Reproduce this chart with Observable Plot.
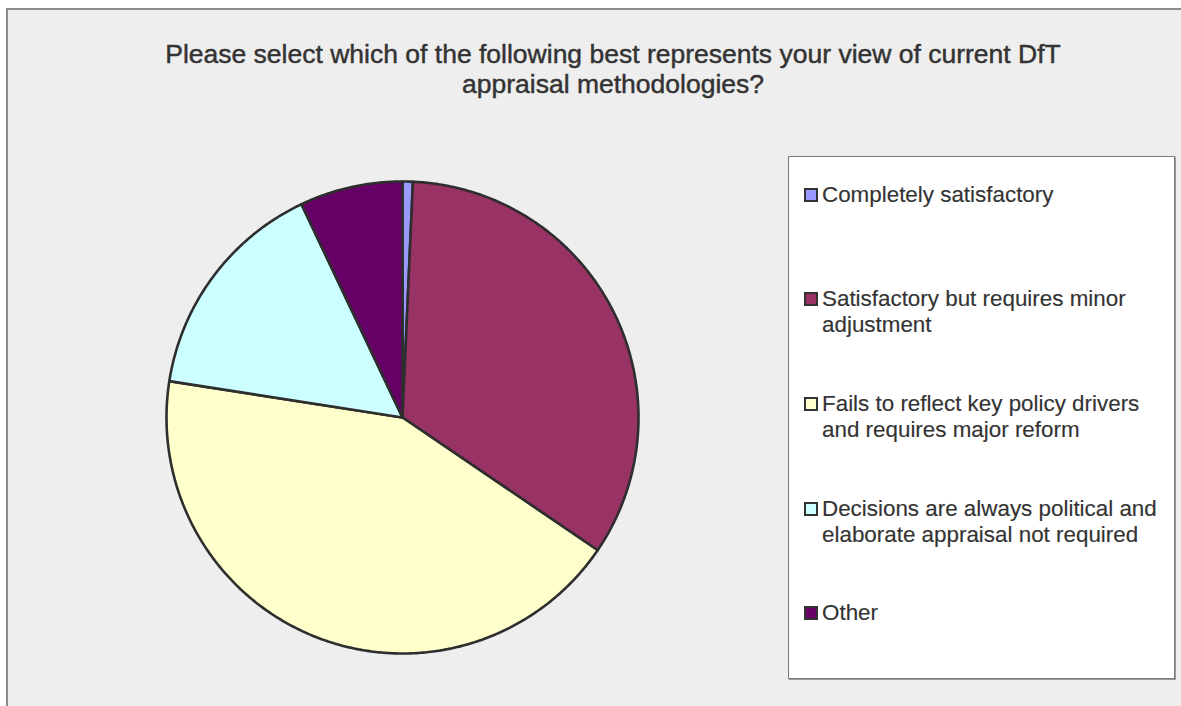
<!DOCTYPE html>
<html>
<head>
<meta charset="utf-8">
<script src="https://cdn.jsdelivr.net/npm/d3@7"></script>
<script src="https://cdn.jsdelivr.net/npm/@observablehq/plot@0.6"></script>
<style>
  html, body { margin: 0; padding: 0; background: #ffffff; overflow: hidden; }
  body { width: 1181px; height: 706px; position: relative; font-family: "Liberation Sans", Arial, sans-serif; }
  #frame { position: absolute; left: 6px; top: 8px; width: 1200px; height: 720px; background: #eeeeee;
           border-left: 2px solid #8c8c8c; border-top: 2px solid #8c8c8c; }
  #title { position: absolute; left: 113px; width: 1000px; top: 39px; text-align: center; color: #333333;
           font-size: 26.5px; line-height: 30px; white-space: pre; -webkit-text-stroke: 0.45px #333333; }
  #pie { position: absolute; left: 162px; top: 177px; }
  #legend { position: absolute; left: 788px; top: 156px; width: 385px; height: 521px; background: #ffffff;
            border: 1px solid #7a7a7a; box-shadow: 1px 1px 0 #9a9a9a; }
  .sw { position: absolute; width: 10px; height: 10px; border: 2px solid #333333; }
  .lab { position: absolute; white-space: pre; font-size: 22.4px; line-height: 26px; color: #333333;
         -webkit-text-stroke: 0.15px #333333; }
</style>
</head>
<body>
<div id="frame"></div>
<div id="title"></div>
<div id="pie"></div>
<div id="legend"></div>
<script>
// ---- data ----
const titleLines = ["Please select which of the following best represents your view of current DfT", "appraisal methodologies?"];
const categories = [
  "Completely satisfactory",
  "Satisfactory but requires minor adjustment",
  "Fails to reflect key policy drivers and requires major reform",
  "Decisions are always political and elaborate appraisal not required",
  "Other"
];
const legendLines = [
  ["Completely satisfactory"],
  ["Satisfactory but requires minor", "adjustment"],
  ["Fails to reflect key policy drivers", "and requires major reform"],
  ["Decisions are always political and", "elaborate appraisal not required"],
  ["Other"]
];
const counts = [1, 48, 61, 22, 10];
const colors = ["#9999ff", "#993366", "#ffffcc", "#ccffff", "#660066"];

// ---- title ----
document.getElementById("title").textContent = titleLines.join("\n");

// ---- pie geometry from data (d3.pie angles, clockwise from 12 o'clock) ----
const arcs = d3.pie().sort(null).value(d => d.v)(categories.map((c, i) => ({c, v: counts[i]})));
const pts = [];
arcs.forEach(a => {
  const c = a.data.c;
  pts.push({c, x: 0, y: 0});
  const n = Math.max(2, Math.ceil((a.endAngle - a.startAngle) / (Math.PI / 360)));
  for (let k = 0; k <= n; k++) {
    const t = a.startAngle + (a.endAngle - a.startAngle) * k / n;
    pts.push({c, x: Math.sin(t), y: Math.cos(t)});
  }
  pts.push({c, x: 0, y: 0});
});

const pie = Plot.plot({
  width: 480, height: 480,
  margin: 4,
  x: {domain: [-1, 1], axis: null},
  y: {domain: [-1, 1], axis: null},
  color: {domain: categories, range: colors},
  style: {background: "transparent", overflow: "visible"},
  marks: [
    Plot.line(pts, {x: "x", y: "y", z: "c", fill: "c", stroke: "#2e2e2e", strokeWidth: 2.6,
                    strokeLinejoin: "round", curve: "linear"})
  ]
});
document.getElementById("pie").appendChild(pie);

// ---- legend ----
const legend = document.getElementById("legend");
const firstBaselines = [203, 307, 412, 517, 621];
categories.forEach((c, i) => {
  const sw = document.createElement("div");
  sw.className = "sw";
  sw.style.background = colors[i];
  sw.style.left = (804 - 789) + "px";
  sw.style.top = (firstBaselines[i] - 15 - 157) + "px";
  legend.appendChild(sw);
  const lab = document.createElement("div");
  lab.className = "lab";
  lab.textContent = legendLines[i].join("\n");
  lab.style.left = (822 - 789) + "px";
  lab.style.top = (firstBaselines[i] - 20.8 - 157) + "px";
  legend.appendChild(lab);
});
</script>
</body>
</html>
